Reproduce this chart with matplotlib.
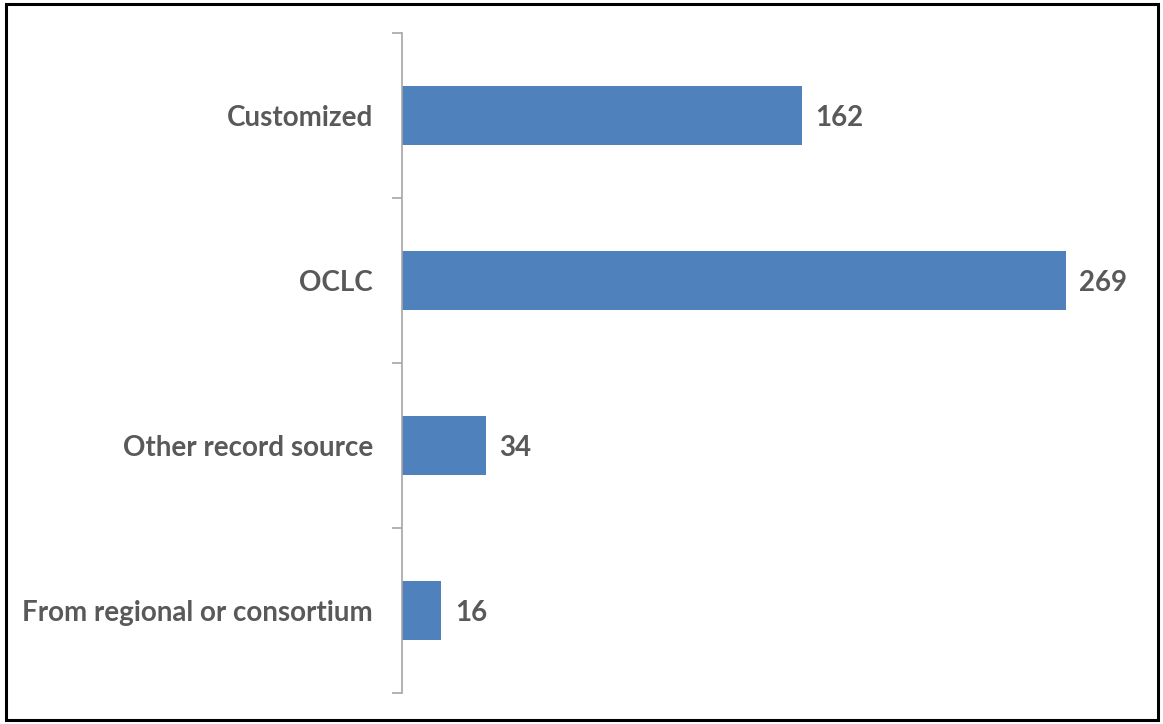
import matplotlib.pyplot as plt
from matplotlib.patches import Rectangle

categories = ["Customized", "OCLC", "Other record source", "From regional or consortium"]
counts = [162, 269, 34, 16]

bar_color = "#4F81BD"
text_color = "#595959"
axis_color = "#A6A6A6"

plt.rcParams['font.family'] = ['Lato', 'DejaVu Sans']

fig = plt.figure(figsize=(11.63, 7.24), dpi=100)
ax = fig.add_axes([402 / 1163, 1 - 693 / 724, 740 / 1163, 660 / 724])

pos = list(range(len(categories)))
ax.barh(pos, counts, height=0.36, color=bar_color)
ax.set_ylim(len(categories) - 0.5, -0.5)
ax.set_xlim(0, 300)

# ticks between categories, like the office chart
ax.set_yticks([p - 0.5 for p in pos] + [len(categories) - 0.5])
ax.set_yticklabels([])
ax.set_yticks(pos, minor=True)
ax.set_yticklabels(categories, minor=True, fontsize=20, fontweight='bold', color=text_color)
ax.tick_params(axis='y', which='major', length=7, width=1.2, color=axis_color, direction='out')
ax.tick_params(axis='y', which='minor', length=0, pad=21)
ax.set_xticks([])

for s in ['top', 'right', 'bottom']:
    ax.spines[s].set_visible(False)
ax.spines['left'].set_color(axis_color)
ax.spines['left'].set_linewidth(1.2)

for p, v in zip(pos, counts):
    ax.text(v + 5.5, p + 0.015, str(v), va='center', ha='left', fontsize=20,
            fontweight='bold', color=text_color)

# black frame around the whole picture
fig.patches.append(Rectangle((6 / 1163, 4 / 724), 1152 / 1163, 716 / 724,
                             transform=fig.transFigure, fill=False,
                             edgecolor='black', linewidth=2.2))

fig.savefig("out.png", dpi=100)
